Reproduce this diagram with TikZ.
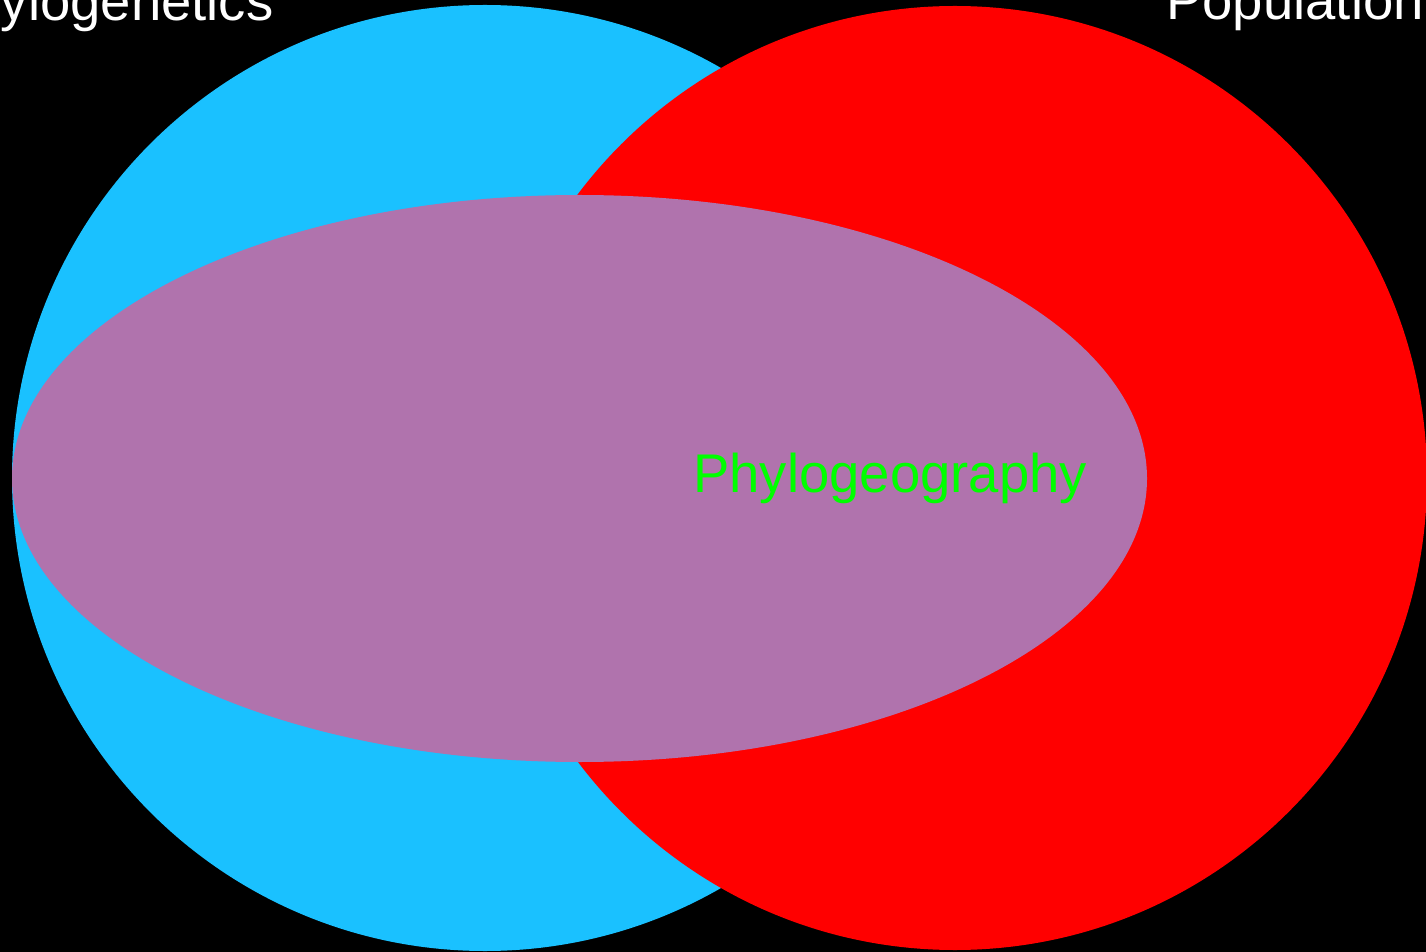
\documentclass[tikz,border=0pt]{standalone}
\usepackage{fontspec}
\setmainfont{Liberation Sans}
\usepackage{xcolor}
\usetikzlibrary{positioning}
\definecolor{PGc}{RGB}{26,193,255}
\definecolor{PopC}{RGB}{255,0,0}
\definecolor{GeoC}{RGB}{176,115,173}
\definecolor{GeoText}{RGB}{0,255,0}
\tikzset{
  setlabel/.style={anchor=base west,inner sep=0pt,font=\fontsize{31}{36}\selectfont},
  outlabel/.style={setlabel,text=white},
  inlabel/.style={setlabel,text=GeoText},
}

\begin{document}
\begin{tikzpicture}[x=0.02cm,y=-0.02cm]
  \useasboundingbox (0,0) rectangle (1426,952);
  \clip (0,0) rectangle (1426,952);
  \fill[black] (0,0) rectangle (1426,952);
  % the two fields and their overlap
  \fill[PGc] (485,478) circle[radius=473];
  \fill[PopC] (955,478) circle[radius=472];
  \fill[GeoC] (579.5,478.5) ellipse[x radius=567.5,y radius=283.5];
  \node[outlabel] (phylo) at (-66,21) {Phylogenetics};
  \node[outlabel] (popgen) at (1166,20) {Population};
  \node[inlabel] (geo) at (693,493) {Phylogeography};
\end{tikzpicture}
\end{document}
